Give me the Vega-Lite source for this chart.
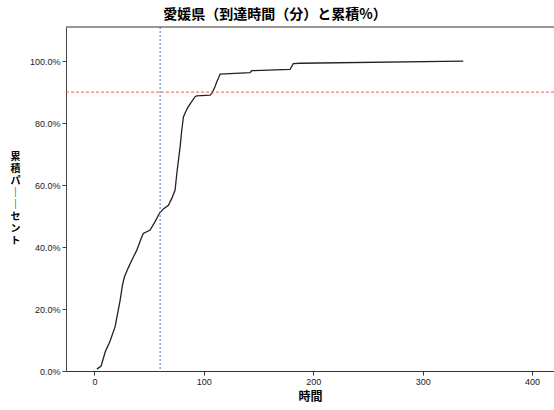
{
  "$schema": "https://vega.github.io/schema/vega-lite/v6.json",
  "width": 488,
  "height": 344,
  "autosize": "none",
  "padding": {"left": 66, "top": 27, "right": 0, "bottom": 39},
  "background": "white",
  "config": {"view": {"stroke": null}, "font": "Liberation Sans"},
  "title": {"text": "愛媛県（到達時間（分）と累積%）", "fontSize": 14, "fontWeight": "bold", "font": "Noto Sans CJK JP", "anchor": "middle", "dx": -35, "offset": 5, "color": "#000"},
  "layer": [
    {
      "data": {"values": [
        {"time": 2.2, "cum": 0.006},
        {"time": 6.1, "cum": 0.016},
        {"time": 9.8, "cum": 0.061},
        {"time": 14.3, "cum": 0.097},
        {"time": 18.9, "cum": 0.143},
        {"time": 23.5, "cum": 0.229},
        {"time": 25.6, "cum": 0.277},
        {"time": 27.4, "cum": 0.304},
        {"time": 30.8, "cum": 0.332},
        {"time": 34.2, "cum": 0.358},
        {"time": 38.7, "cum": 0.390},
        {"time": 43.3, "cum": 0.433},
        {"time": 44.7, "cum": 0.444},
        {"time": 50.9, "cum": 0.455},
        {"time": 55.4, "cum": 0.482},
        {"time": 59.4, "cum": 0.509},
        {"time": 63.0, "cum": 0.523},
        {"time": 67.6, "cum": 0.535},
        {"time": 70.7, "cum": 0.557},
        {"time": 73.7, "cum": 0.584},
        {"time": 75.3, "cum": 0.638},
        {"time": 78.3, "cum": 0.724},
        {"time": 79.8, "cum": 0.777},
        {"time": 81.3, "cum": 0.820},
        {"time": 83.7, "cum": 0.839},
        {"time": 85.6, "cum": 0.852},
        {"time": 88.9, "cum": 0.869},
        {"time": 92.0, "cum": 0.885},
        {"time": 93.5, "cum": 0.888},
        {"time": 105.7, "cum": 0.890},
        {"time": 107.2, "cum": 0.896},
        {"time": 110.2, "cum": 0.917},
        {"time": 111.8, "cum": 0.933},
        {"time": 113.2, "cum": 0.944},
        {"time": 114.8, "cum": 0.958},
        {"time": 142.2, "cum": 0.963},
        {"time": 143.7, "cum": 0.969},
        {"time": 178.7, "cum": 0.973},
        {"time": 181.7, "cum": 0.992},
        {"time": 187.9, "cum": 0.993},
        {"time": 337.0, "cum": 1.0}
      ]},
      "mark": {"type": "line", "color": "#222", "strokeWidth": 1.3},
      "encoding": {
        "x": {"field": "time", "type": "quantitative",
          "scale": {"domain": [-26, 420], "nice": false, "zero": false},
          "axis": {"values": [0, 100, 200, 300, 400], "title": "時間", "titleFont": "Noto Sans CJK JP", "titleFontSize": 12, "titleFontWeight": "bold", "titleColor": "#000", "titlePadding": 5, "grid": false, "domainColor": "#333", "tickColor": "#333", "tickSize": 4, "labelFontSize": 9, "labelColor": "#222", "labelPadding": 2}},
        "y": {"field": "cum", "type": "quantitative",
          "scale": {"domain": [0, 1.11], "nice": false},
          "axis": {"format": ".1%", "values": [0, 0.2, 0.4, 0.6, 0.8, 1.0],
            "title": ["累", "積", "パ", "｜", "｜", "セ", "ン", "ト"],
            "titleFont": "Noto Sans CJK JP", "titleAngle": 0, "titleAlign": "center", "titleBaseline": "top", "titleX": -51, "titleY": 124, "titleFontSize": 10, "titleFontWeight": "bold", "titleColor": "#000", "titleLineHeight": 12,
            "grid": false, "domainColor": "#444", "tickColor": "#444", "tickSize": 4, "labelFontSize": 9, "labelColor": "#222", "labelPadding": 2}}
      }
    },
    {
      "data": {"values": [{"v": 0.9}]},
      "mark": {"type": "rule", "color": "#ff5050", "strokeDash": [3, 2], "strokeWidth": 1},
      "encoding": {"y": {"field": "v", "type": "quantitative"}}
    },
    {
      "data": {"values": [{"t": 60}]},
      "mark": {"type": "rule", "color": "#4f6fcf", "strokeDash": [2, 2], "strokeWidth": 1},
      "encoding": {"x": {"field": "t", "type": "quantitative"}}
    },
    {
      "data": {"values": [{"v": 1.11}]},
      "mark": {"type": "rule", "color": "#333", "strokeWidth": 1},
      "encoding": {"y": {"field": "v", "type": "quantitative"}}
    }
  ]
}
